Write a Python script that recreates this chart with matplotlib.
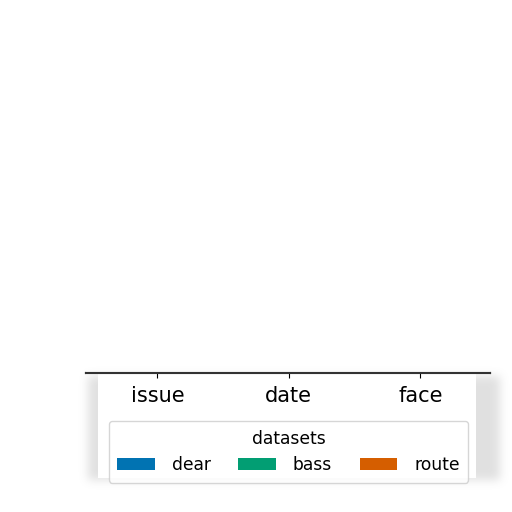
import numpy as np
import matplotlib
matplotlib.use("Agg")
import matplotlib.pyplot as plt

categories = ["issue", "date", "face"]
series_names = ["dear", "bass", "route"]
dear = [0.1, 0.9, 0.8]
bass = [0.2, 1.0, 0.6]
route = [0.4, 0.9, 0.5]
colors = ["#0173b2", "#029e73", "#d55e00"]


def soft_shadow(w, h, x0, y0, x1, y1, blur):
    # gray card shadow with blurred edges, in pixel coords
    img = np.zeros((h, w))
    img[y0:y1, x0:x1] = 1.0
    k = np.ones(blur) / blur
    for _ in range(3):
        img = np.apply_along_axis(lambda r: np.convolve(r, k, mode="same"), 1, img)
        img = np.apply_along_axis(lambda c: np.convolve(c, k, mode="same"), 0, img)
    return img


def main():
    fig = plt.figure(figsize=(5.12, 5.12), dpi=100)

    # background shadow layer
    bg = fig.add_axes([0, 0, 1, 1], zorder=-5)
    bg.set_xlim(0, 512)
    bg.set_ylim(512, 0)
    bg.axis("off")
    sh = soft_shadow(512, 512, 88, 376, 500, 480, 9)
    rgba = np.zeros((512, 512, 4))
    rgba[..., :3] = 0.6
    rgba[..., 3] = sh * 0.3
    bg.imshow(rgba, extent=(0, 512, 512, 0), interpolation="bilinear")
    bg.add_patch(plt.Rectangle((98, 374), 378, 104, facecolor="white", edgecolor="none"))

    ax = fig.add_axes([85 / 512, 1 - 373 / 512, 405 / 512, 1.5 / 512])
    x = np.arange(len(categories))
    width = 0.8 / 3
    for i, (name, vals) in enumerate(zip(series_names, [dear, bass, route])):
        ax.bar(x + (i - 1) * width, vals, width, color=colors[i], label=name, alpha=0.5)
    ax.set_xticks(x)
    ax.set_xticklabels(categories, fontsize=15)
    ax.tick_params(axis="x", pad=6)
    ax.set_yticks([])
    ax.set_xlim(-0.55, 2.53)
    ax.set_ylim(0, 1.0)
    for s in ax.spines.values():
        s.set_color("#333333")

    leg = ax.legend(title="datasets", ncol=3, loc="upper center",
                    bbox_to_anchor=(288.5 / 512, 1 - 421 / 512),
                    bbox_transform=fig.transFigure,
                    fontsize=12.3, title_fontsize=12.3,
                    handlelength=2.2, handletextpad=1.0, columnspacing=1.6,
                    borderpad=0.5, borderaxespad=0, frameon=True)
    for h in leg.legend_handles:
        h.set_alpha(1.0)

    fig.savefig("out.png", facecolor="w")
    plt.close(fig)


if __name__ == '__main__':
    main()
